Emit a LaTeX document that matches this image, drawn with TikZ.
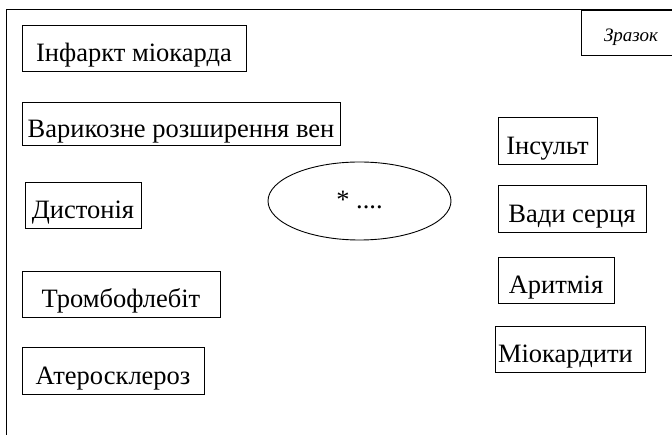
\documentclass[tikz,border=0pt]{standalone}
\usepackage{fontspec}
\setmainfont{Liberation Serif}
\usetikzlibrary{shapes.geometric}

\tikzset{
  frameline/.style={line width=1pt},
  illness/.style={draw, line width=0.9pt, inner sep=0pt,
    font=\fontsize{26.5}{30}\selectfont, text height=28pt, text depth=0pt},
  centre/.style={draw, ellipse, line width=0.9pt, inner sep=0pt,
    minimum width=183pt, minimum height=78pt,
    font=\fontsize{26.5}{30}\selectfont, text height=16pt, text depth=0pt},
  sample/.style={draw, line width=0.9pt, inner sep=0pt,
    font=\fontsize{19}{22}\itshape\selectfont, text height=18pt, text depth=0pt}
}

\begin{document}
\begin{tikzpicture}[x=1pt, y=-1pt]
  \useasboundingbox (0,0) rectangle (672,435);

  % open frame: top and left edges
  \coordinate (frameBL) at (6,436);
  \coordinate (frameTL) at (6,10);
  \coordinate (frameTR) at (673,10);
  \draw[frameline] (frameBL) -- (frameTL) -- (frameTR);

  % sample tag in the corner
  \node[sample, minimum width=93pt, minimum height=45pt,
        text width=93pt, align=left, inner xsep=0pt] (tag) at (627.5,32.5)
        {\hspace*{23pt}Зразок};

  % left column
  \node[illness, minimum width=224pt, minimum height=46pt] (infarct) at (134,48) {Інфаркт міокарда};
  \node[illness, minimum width=318pt, minimum height=43pt] (varicose) at (181,124) {Варикозне розширення вен};
  \node[illness, minimum width=116pt, minimum height=46pt] (dystonia) at (83,205) {Дистонія};
  \node[illness, minimum width=198pt, minimum height=46pt] (thrombo) at (121,294) {Тромбофлебіт};
  \node[illness, minimum width=182pt, minimum height=47pt] (athero) at (113,370.5) {Атеросклероз};

  % centre
  \node[centre] (core) at (359.5,201) {* ....};

  % right column
  \node[illness, minimum width=99pt, minimum height=47pt] (stroke) at (547.5,140.5) {Інсульт};
  \node[illness, minimum width=148pt, minimum height=47pt] (defects) at (572,208.5) {Вади серця};
  \node[illness, minimum width=116pt, minimum height=46pt] (arrhythmia) at (556,280) {Аритмія};
  \node[illness, minimum width=150pt, minimum height=46pt,
        text width=150pt, align=left] (myocarditis) at (570,349)
        {\hspace*{3pt}Міокардити};
\end{tikzpicture}
\end{document}
